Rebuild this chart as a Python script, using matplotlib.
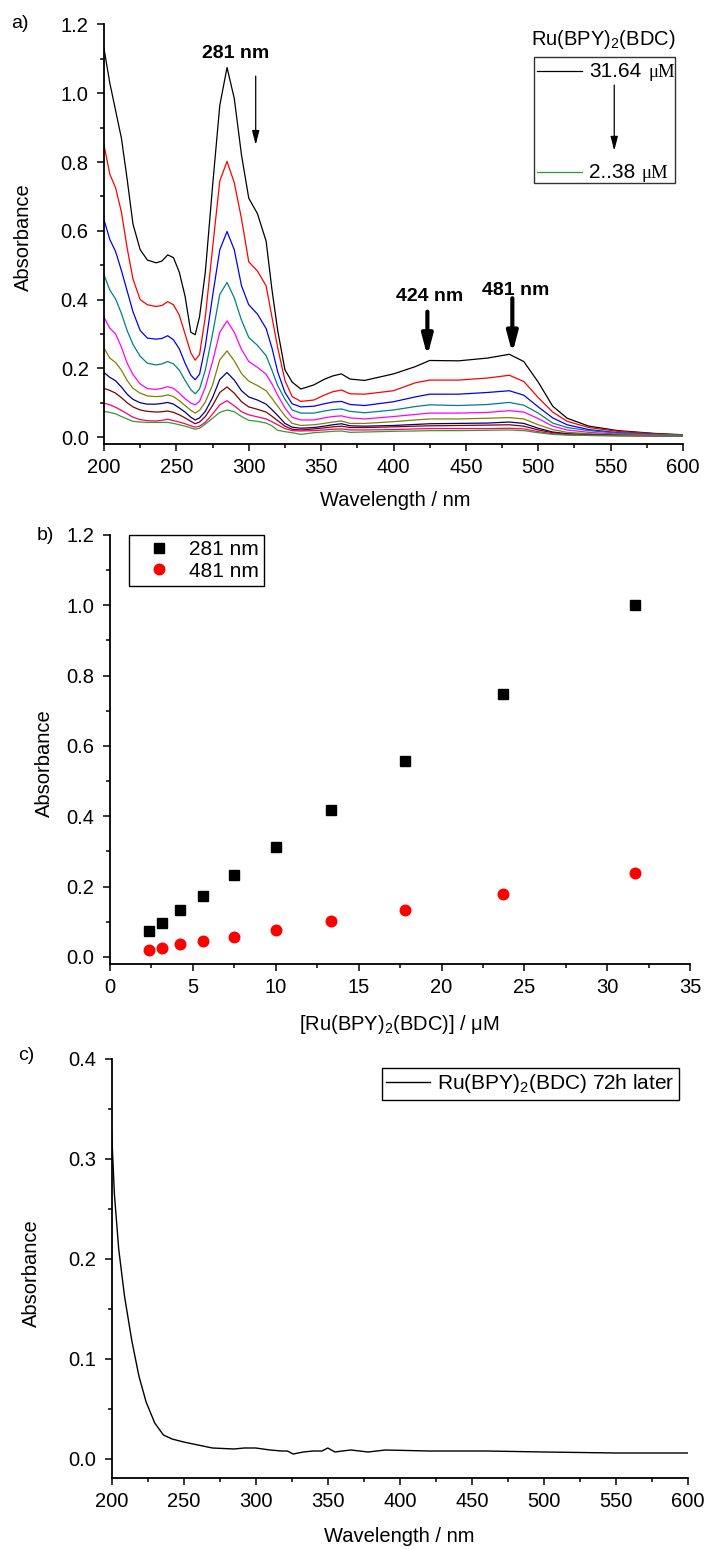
import matplotlib
matplotlib.use('Agg')
import matplotlib.pyplot as plt
from matplotlib.ticker import MultipleLocator
from matplotlib.patches import Rectangle

plt.rcParams['font.family'] = ['Liberation Sans', 'DejaVu Sans']
plt.rcParams['mathtext.fontset'] = 'custom'
plt.rcParams['mathtext.rm'] = 'Liberation Sans'
plt.rcParams['mathtext.it'] = 'Liberation Sans:italic'
plt.rcParams['mathtext.bf'] = 'Liberation Sans:bold'

# a) спектры при разных концентрациях
wavelength = [200, 204, 208, 212, 216, 220, 225, 230, 236, 240,
              244, 248, 252, 256, 260, 263, 266, 270, 275, 280,
              285, 290, 295, 300, 306, 312, 316, 320, 325, 330,
              336, 345, 352, 358, 364, 370, 380, 400, 415, 425,
              445, 465, 480, 490, 500, 510, 520, 535, 555, 580, 600]
abs_31_64 = [1.130, 1.030, 0.950, 0.870, 0.750, 0.620, 0.545, 0.515, 0.507, 0.512,
             0.530, 0.522, 0.480, 0.410, 0.305, 0.298, 0.350, 0.480, 0.730, 0.965,
             1.075, 0.985, 0.820, 0.695, 0.650, 0.570, 0.430, 0.310, 0.196, 0.160,
             0.140, 0.152, 0.168, 0.178, 0.184, 0.169, 0.165, 0.184, 0.205, 0.223,
             0.222, 0.230, 0.241, 0.220, 0.160, 0.090, 0.055, 0.032, 0.019, 0.011, 0.007]
abs_23_73 = [0.850, 0.765, 0.725, 0.655, 0.550, 0.460, 0.400, 0.385, 0.380, 0.383,
             0.394, 0.385, 0.355, 0.300, 0.245, 0.224, 0.240, 0.350, 0.550, 0.745,
             0.802, 0.740, 0.635, 0.510, 0.483, 0.440, 0.350, 0.260, 0.165, 0.118,
             0.104, 0.108, 0.122, 0.132, 0.137, 0.126, 0.125, 0.135, 0.158, 0.166,
             0.166, 0.172, 0.180, 0.162, 0.115, 0.073, 0.046, 0.028, 0.017, 0.010, 0.006]
abs_17_80 = [0.632, 0.575, 0.540, 0.485, 0.425, 0.365, 0.310, 0.288, 0.285, 0.287,
             0.295, 0.283, 0.257, 0.215, 0.180, 0.167, 0.183, 0.265, 0.410, 0.545,
             0.598, 0.545, 0.440, 0.385, 0.358, 0.316, 0.260, 0.190, 0.130, 0.097,
             0.088, 0.090, 0.097, 0.102, 0.104, 0.095, 0.092, 0.103, 0.117, 0.125,
             0.125, 0.130, 0.135, 0.122, 0.088, 0.056, 0.036, 0.022, 0.013, 0.008, 0.006]
abs_13_35 = [0.472, 0.428, 0.402, 0.360, 0.310, 0.270, 0.235, 0.215, 0.210, 0.213,
             0.220, 0.213, 0.195, 0.165, 0.138, 0.126, 0.140, 0.195, 0.300, 0.415,
             0.450, 0.405, 0.340, 0.290, 0.267, 0.237, 0.195, 0.150, 0.110, 0.079,
             0.070, 0.070, 0.076, 0.080, 0.082, 0.075, 0.071, 0.079, 0.089, 0.094,
             0.092, 0.095, 0.101, 0.093, 0.070, 0.041, 0.028, 0.019, 0.012, 0.008, 0.006]
abs_10_01 = [0.349, 0.317, 0.300, 0.262, 0.215, 0.182, 0.155, 0.141, 0.139, 0.142,
             0.147, 0.142, 0.128, 0.112, 0.099, 0.094, 0.104, 0.145, 0.220, 0.305,
             0.338, 0.305, 0.255, 0.220, 0.203, 0.183, 0.155, 0.122, 0.085, 0.058,
             0.050, 0.050, 0.056, 0.060, 0.062, 0.056, 0.053, 0.060, 0.066, 0.070,
             0.070, 0.072, 0.077, 0.073, 0.054, 0.032, 0.021, 0.014, 0.009, 0.006, 0.005]
abs_7_51 = [0.259, 0.230, 0.217, 0.195, 0.165, 0.142, 0.128, 0.120, 0.118, 0.119,
            0.123, 0.118, 0.106, 0.092, 0.078, 0.070, 0.078, 0.102, 0.152, 0.225,
            0.251, 0.222, 0.185, 0.163, 0.150, 0.135, 0.113, 0.090, 0.062, 0.040,
            0.034, 0.036, 0.040, 0.044, 0.047, 0.040, 0.040, 0.045, 0.050, 0.053,
            0.053, 0.055, 0.057, 0.053, 0.036, 0.022, 0.014, 0.010, 0.007, 0.005, 0.005]
abs_5_63 = [0.188, 0.174, 0.164, 0.146, 0.125, 0.110, 0.100, 0.096, 0.096, 0.098,
            0.101, 0.096, 0.085, 0.073, 0.058, 0.050, 0.056, 0.075, 0.115, 0.168,
            0.188, 0.166, 0.135, 0.117, 0.108, 0.096, 0.080, 0.063, 0.040, 0.029,
            0.026, 0.028, 0.032, 0.036, 0.039, 0.033, 0.032, 0.034, 0.037, 0.039,
            0.040, 0.041, 0.044, 0.040, 0.026, 0.015, 0.010, 0.007, 0.005, 0.004, 0.004]
abs_4_22 = [0.142, 0.136, 0.128, 0.115, 0.100, 0.088, 0.079, 0.075, 0.073, 0.074,
            0.076, 0.072, 0.065, 0.056, 0.046, 0.039, 0.044, 0.060, 0.092, 0.130,
            0.146, 0.128, 0.103, 0.088, 0.081, 0.073, 0.061, 0.048, 0.032, 0.023,
            0.021, 0.024, 0.027, 0.030, 0.032, 0.028, 0.028, 0.030, 0.032, 0.033,
            0.034, 0.035, 0.036, 0.032, 0.021, 0.013, 0.008, 0.006, 0.005, 0.004, 0.004]
abs_3_17 = [0.099, 0.094, 0.087, 0.078, 0.068, 0.058, 0.051, 0.048, 0.047, 0.049,
            0.052, 0.048, 0.044, 0.039, 0.033, 0.029, 0.032, 0.043, 0.067, 0.094,
            0.106, 0.091, 0.074, 0.065, 0.059, 0.053, 0.045, 0.036, 0.025, 0.019,
            0.018, 0.019, 0.021, 0.023, 0.024, 0.021, 0.021, 0.022, 0.024, 0.025,
            0.025, 0.025, 0.026, 0.024, 0.016, 0.010, 0.007, 0.005, 0.004, 0.004, 0.004]
abs_2_38 = [0.075, 0.072, 0.068, 0.060, 0.053, 0.046, 0.044, 0.043, 0.043, 0.043,
            0.043, 0.040, 0.036, 0.032, 0.027, 0.023, 0.026, 0.038, 0.055, 0.072,
            0.079, 0.074, 0.060, 0.049, 0.046, 0.041, 0.033, 0.020, 0.016, 0.013,
            0.008, 0.013, 0.015, 0.017, 0.018, 0.014, 0.015, 0.017, 0.018, 0.019,
            0.019, 0.020, 0.021, 0.019, 0.013, 0.008, 0.006, 0.005, 0.004, 0.004, 0.004]
spectra = [abs_31_64, abs_23_73, abs_17_80, abs_13_35, abs_10_01,
           abs_7_51, abs_5_63, abs_4_22, abs_3_17, abs_2_38]
colors = ['#000000', '#ff0000', '#0000ff', '#008080', '#ff00ff',
          '#808000', '#000080', '#800000', '#ff0066', '#2e9e2e']

# b) калибровка
conc = [2.38, 3.17, 4.22, 5.63, 7.51, 10.01, 13.35, 17.80, 23.73, 31.64]
abs_281 = [0.073, 0.098, 0.134, 0.173, 0.233, 0.312, 0.417, 0.558, 0.749, 1.000]
abs_481 = [0.021, 0.026, 0.036, 0.044, 0.057, 0.077, 0.101, 0.134, 0.179, 0.239]

# c) через 72 часа
wavelength_c = [200, 202, 205, 209, 214, 219, 224, 230, 236, 242,
                250, 260, 270, 285, 292, 300, 310, 318, 322, 326,
                333, 340, 346, 350, 355, 360, 366, 372, 378, 390,
                420, 460, 500, 550, 600]
abs_72h = [0.330, 0.265, 0.210, 0.163, 0.119, 0.083, 0.057, 0.036, 0.024, 0.020,
           0.017, 0.014, 0.011, 0.010, 0.011, 0.011, 0.009, 0.008, 0.008, 0.005,
           0.007, 0.008, 0.008, 0.011, 0.007, 0.008, 0.009, 0.008, 0.007, 0.009,
           0.008, 0.008, 0.007, 0.006, 0.006]

W, H = 704, 1549
fig = plt.figure(figsize=(W / 100, H / 100), dpi=100)


def style(ax, xmaj, xmin, ymaj, ymin):
    ax.spines['top'].set_visible(False)
    ax.spines['right'].set_visible(False)
    for s in ('left', 'bottom'):
        ax.spines[s].set_linewidth(1.3)
    ax.xaxis.set_major_locator(MultipleLocator(xmaj))
    ax.xaxis.set_minor_locator(MultipleLocator(xmin))
    ax.yaxis.set_major_locator(MultipleLocator(ymaj))
    ax.yaxis.set_minor_locator(MultipleLocator(ymin))
    ax.tick_params(which='both', direction='out', width=1.1, labelsize=14.5)
    ax.tick_params(which='major', length=5)
    ax.tick_params(which='minor', length=3)
    ax.tick_params(axis='x', pad=5)
    ax.tick_params(axis='y', pad=6)


# ---- a)
ax1 = fig.add_axes([104 / W, 1 - 443.7 / H, 579 / W, 419.2 / H])
for y, c in zip(spectra, colors):
    ax1.plot(wavelength, y, color=c, lw=0.9)
ax1.set_xlim(200, 600)
ax1.set_ylim(-0.019, 1.2)
style(ax1, 50, 25, 0.2, 0.1)
ax1.set_xlabel('Wavelength / nm', fontsize=14.5)
ax1.set_ylabel('Absorbance', fontsize=14.5)
ax1.xaxis.set_label_coords(0.503, -0.114)
ax1.yaxis.set_label_coords(-0.1226, 0.493)

ax1.text(290.8, 1.116, '281 nm', fontsize=14, fontweight='bold', ha='center', va='center')
ax1.text(425, 0.409, '424 nm', fontsize=14, fontweight='bold', ha='center', va='center')
ax1.text(484.2, 0.426, '481 nm', fontsize=14, fontweight='bold', ha='center', va='center')
thin = dict(arrowstyle='-|>,head_length=0.85,head_width=0.22', lw=0.9, color='k',
            shrinkA=0, shrinkB=0)
thick = dict(arrowstyle='-|>,head_length=0.6,head_width=0.16', lw=3, color='k',
             shrinkA=0, shrinkB=0, mutation_scale=20)
ax1.annotate('', xy=(304.8, 0.85), xytext=(304.8, 1.05), arrowprops=thin)
ax1.annotate('', xy=(423.4, 0.236), xytext=(423.4, 0.365), arrowprops=thick)
ax1.annotate('', xy=(482.1, 0.244), xytext=(482.1, 0.404), arrowprops=thick)

# легенда a) вручную
ax1.add_patch(Rectangle((497.1, 0.738), 97.4, 0.367, fill=False, lw=1.0, ec='#333333'))
ax1.text(544.7, 1.155, 'Ru(BPY)$_2$(BDC)', fontsize=14.5, ha='center', va='center')
ax1.plot([498.9, 530], [1.066, 1.066], color=colors[0], lw=0.9)
ax1.plot([498.9, 530.5], [0.770, 0.770], color=colors[-1], lw=0.9)
ax1.text(535.4, 1.063, '31.64', fontsize=15, ha='left', va='center')
ax1.text(576.0, 1.060, 'μM', fontsize=13.5, family='Liberation Serif', ha='left', va='center')
ax1.text(535.4, 0.771, '2..38', fontsize=15, ha='left', va='center')
ax1.text(571.5, 0.768, 'μM', fontsize=13.5, family='Liberation Serif', ha='left', va='center')
ax1.annotate('', xy=(552.5, 0.833), xytext=(552.5, 1.024), arrowprops=thin)

# ---- b)
ax2 = fig.add_axes([109.7 / W, 1 - 964 / H, 580.7 / W, 429 / H])
ax2.plot(conc, abs_281, 's', color='black', ms=7.2, label='281 nm')
ax2.plot(conc, abs_481, 'o', color='#ff0000', ms=7.6, label='481 nm')
ax2.set_xlim(0, 35)
ax2.set_ylim(-0.02, 1.2)
style(ax2, 5, 2.5, 0.2, 0.1)
ax2.set_xlabel('[Ru(BPY)$_2$(BDC)] / μM', fontsize=14.5)
ax2.set_ylabel('Absorbance', fontsize=14.5)
ax2.xaxis.set_label_coords(0.498, -0.114)
ax2.yaxis.set_label_coords(-0.096, 0.469)
leg = ax2.legend(loc='upper left', bbox_to_anchor=(0.0325, 1.0), borderaxespad=0,
                 fontsize=15, frameon=True, fancybox=False, edgecolor='black',
                 framealpha=1, borderpad=0.25, handlelength=2.4, handletextpad=0.25,
                 labelspacing=0.12)
leg.get_frame().set_linewidth(1.0)

# ---- c)
ax3 = fig.add_axes([111.5 / W, 1 - 1478 / H, 576.7 / W, 419 / H])
ax3.plot(wavelength_c, abs_72h, color='black', lw=1.0, label='Ru(BPY)$_2$(BDC) 72h later')
ax3.set_xlim(200, 600)
ax3.set_ylim(-0.019, 0.4)
style(ax3, 50, 25, 0.1, 0.05)
ax3.set_xlabel('Wavelength / nm', fontsize=14.5)
ax3.set_ylabel('Absorbance', fontsize=14.5)
ax3.xaxis.set_label_coords(0.499, -0.117)
ax3.yaxis.set_label_coords(-0.123, 0.489)
leg3 = ax3.legend(loc='upper left', bbox_to_anchor=(0.469, 0.978), borderaxespad=0,
                  fontsize=15, frameon=True, fancybox=False, edgecolor='black',
                  framealpha=1, borderpad=0.2, handlelength=2.1, handletextpad=0.35)
leg3.get_frame().set_linewidth(1.0)

# подписи панелей
fig.text(20 / W, 1 - 24 / H, 'a)', fontsize=14, ha='center', va='center')
fig.text(45.6 / W, 1 - 535 / H, 'b)', fontsize=14, ha='center', va='center')
fig.text(26 / W, 1 - 1055 / H, 'c)', fontsize=14, ha='center', va='center')

fig.savefig('out.png', dpi=100)
